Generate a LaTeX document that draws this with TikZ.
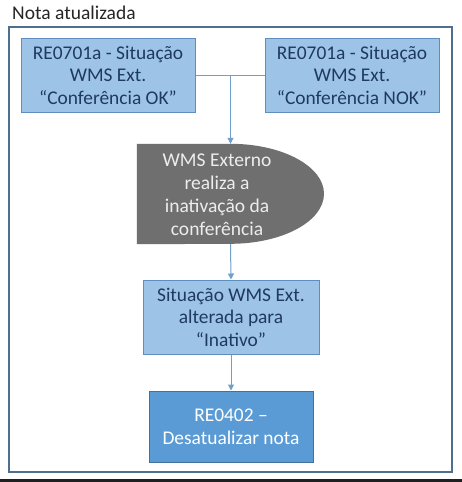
\documentclass[tikz,border=0pt]{standalone}
\usepackage{fontspec}
\setmainfont{Carlito}
\usetikzlibrary{arrows.meta}
\definecolor{lightfill}{HTML}{9DC3E6}
\definecolor{lightdraw}{HTML}{5E8DBE}
\definecolor{darkfill}{HTML}{5B9BD5}
\definecolor{darkdraw}{HTML}{41719C}
\definecolor{boxtext}{HTML}{1F3A5F}
\definecolor{grayfill}{HTML}{6F6F6F}
\definecolor{graytext}{HTML}{EDEDED}
\definecolor{conn}{HTML}{6F9FCF}
\definecolor{framec}{HTML}{4F6F8F}
\tikzset{
  lightbox/.style={draw=lightdraw, fill=lightfill, line width=1pt, text=boxtext, align=center, inner sep=0pt, font=\fontsize{19.4}{22.5}\selectfont},
  darkbox/.style={draw=darkdraw, fill=darkfill, line width=1pt, text=white, align=center, inner sep=0pt, font=\fontsize{19.4}{23}\selectfont},
  conline/.style={draw=conn, line width=1pt},
  conarrow/.style={conline, -{Triangle[length=6pt,width=6pt]}},
}
\begin{document}
\begin{tikzpicture}[x=1pt,y=-1pt]
\useasboundingbox (0,0) rectangle (462,482);
\fill[white] (0,0) rectangle (462,482);
\fill[black!88] (0,479) rectangle (462,482);
\node[anchor=west, font=\fontsize{19.5}{23}\selectfont, text=black!85, inner sep=0pt] (title) at (12,13) {Nota atualizada};
\draw[framec, line width=1.4pt] (9,27) rectangle (452,472);
\node[lightbox, minimum width=174pt, minimum height=74pt] (ok) at (108,75) {RE0701a - Situação\\WMS Ext.\\“Conferência OK”};
\node[lightbox, minimum width=174pt, minimum height=74pt] (nok) at (352,75) {RE0701a - Situação\\WMS Ext.\\“Conferência NOK”};
\node[minimum width=187pt, minimum height=100pt, inner sep=0pt] (delay) at (230.5,194) {};
\fill[grayfill] (delay.north west) -- (delay.north) arc[start angle=90, end angle=-90, x radius=93.5pt, y radius=50pt] -- (delay.south west) -- cycle;
\node[text=graytext, align=center, font=\fontsize{19.5}{23}\selectfont, inner sep=0pt] (delaytext) at (217,195) {WMS Externo\\realiza a\\inativação da\\conferência};
\node[lightbox, minimum width=176pt, minimum height=74pt] (sit) at (231,317) {Situação WMS Ext.\\alterada para\\“Inativo”};
\node[darkbox, minimum width=164pt, minimum height=71pt] (des) at (231,426.5) {RE0402 –\\Desatualizar nota};
\coordinate (j) at (delay.north |- ok.east);
\draw[conline] (ok.east) -- (nok.west);
\draw[conarrow] (j) -- (delay.north);
\draw[conarrow] (delay.south) -- (sit.north);
\draw[conarrow] (sit.south) -- (des.north);
\end{tikzpicture}
\end{document}
